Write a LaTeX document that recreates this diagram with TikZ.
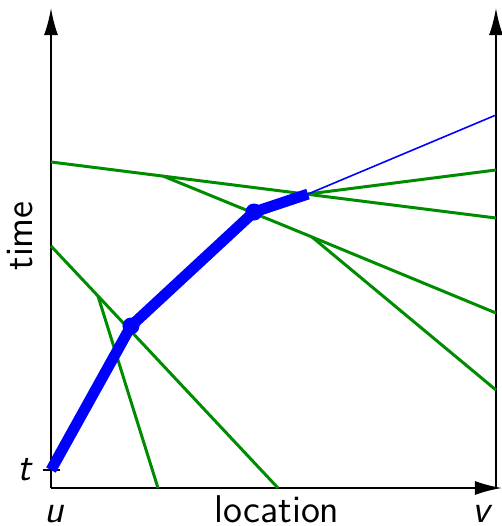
\documentclass[tikz,border=0pt]{standalone}
\usepackage{tikz}
\usetikzlibrary{arrows.meta,positioning}
\newcommand\PxUnit{0.01cm}
\definecolor{raygreen}{RGB}{0,140,0}
\tikzset{
  every picture/.style = {
    font=\sffamily\fontsize{11}{13}\selectfont
  },
  axis/.style={
    line width=0.6pt,
    -{Latex[length=7.7pt,width=4pt]}
  },
  worldline/.style={
    draw=blue,
    line width=3.1pt,
    line cap=butt
  },
  signal/.style={
    draw=blue,
    line width=0.45pt
  },
  ray/.style={
    draw=raygreen,
    line width=0.85pt
  },
  event/.style={
    circle,
    fill=blue,
    inner sep=0pt,
    minimum size=0.17cm
  },
  lbl/.style={
    inner sep=0pt
  }
}

\begin{document}
\begin{tikzpicture}[x=\PxUnit,y=\PxUnit]
    \useasboundingbox (-51,-38) rectangle (451,488);

    % axes
    \coordinate (O) at (0,0);
    \coordinate (Otop) at (0,480);
    \coordinate (R) at (445,0);
    \coordinate (Rtop) at (445,480);
    \coordinate (Xend) at (451,0);
    \draw[axis] (O) -- (Otop);
    \draw[axis] (R) -- (Rtop);
    \draw[axis] (O) -- (Xend);

    % tick for t
    \coordinate (tl) at (-8,18);
    \coordinate (tr) at (9,18);
    \draw[line width=0.6pt] (tl) -- (tr);

    \node[lbl] (t) at (-27,18) {\itshape t};
    \node[lbl, anchor=base] (u) at (3,-34) {\itshape u};
    \node[lbl, anchor=base] (v) at (430,-34) {\itshape v};
    \node[lbl, anchor=base] (loc) at (226,-34) {location};
    \node[lbl, rotate=90] (time) at (-31,252) {time};

    % green rays
    \coordinate (A1) at (0,326);
    \coordinate (A2) at (445,270);
    \coordinate (B1) at (112,312);
    \coordinate (B2) at (261,251);
    \coordinate (C1) at (445,175);
    \coordinate (C2) at (445,98);
    \coordinate (D1) at (0,242);
    \coordinate (B3) at (47,192);
    \coordinate (D2) at (227,0);
    \coordinate (D3) at (107,0);
    \coordinate (E) at (257,294);
    \coordinate (F) at (445,318);

    \draw[ray] (A1) -- (A2);
    \draw[ray] (B1) -- (B2) -- (C1);
    \draw[ray] (B2) -- (C2);
    \draw[ray] (E) -- (F);
    \draw[ray] (D1) -- (B3) -- (D2);
    \draw[ray] (B3) -- (D3);

    % path of the mover
    \coordinate (S) at (0,18);
    \node[event] (P1) at (80,162) {};
    \node[event] (P2) at (203,276) {};
    \coordinate (G) at (445,373);
    \draw[signal] (E) -- (G);
    \draw[worldline] (S) -- (P1.center) -- (P2.center) -- (E);
\end{tikzpicture}
\end{document}
